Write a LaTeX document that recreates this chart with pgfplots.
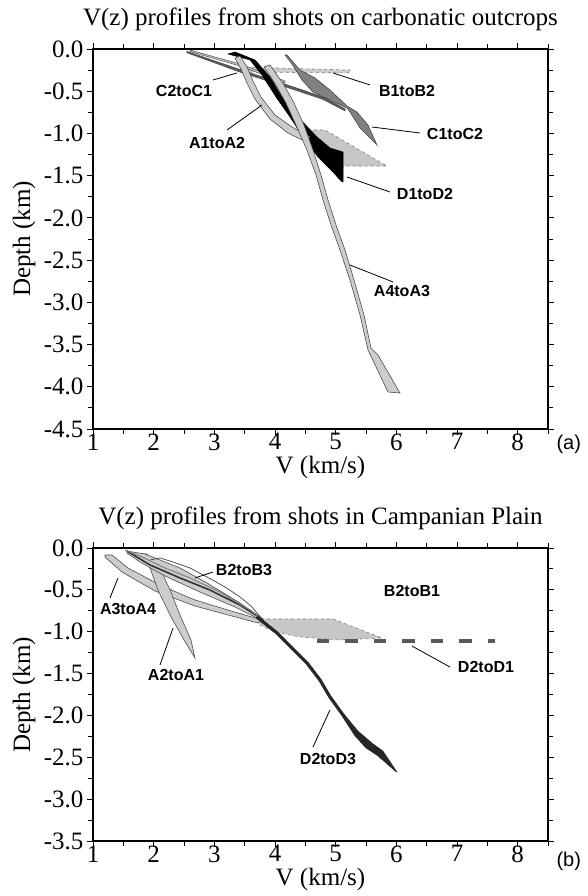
\documentclass[border=0pt]{standalone}
\usepackage{fontspec}
\setmainfont{Liberation Serif}
\newfontfamily\labfont{Liberation Sans}
\usepackage{pgfplots}
\pgfplotsset{compat=1.18}

\definecolor{edge}{gray}{0.30}
\definecolor{lightband}{gray}{0.80}
\definecolor{midband}{gray}{0.50}
\definecolor{darkband}{gray}{0.35}
\definecolor{areafill}{gray}{0.78}

\newcommand{\curvelabel}{\labfont\bfseries\fontsize{16}{16}\selectfont}
\newcommand{\bigtext}{\fontsize{25}{25}\selectfont}

\pgfplotsset{
  vzpanel/.style={
    scale only axis, width=455pt,
    xmin=1, xmax=8.5,
    xtick={1,2,3,4,5,6,7,8},
    xticklabels={1,2,3,4,5,6,7,8},
    minor xtick={1.5,2.5,3.5,4.5,5.5,6.5,7.5,8.5},
    tick align=outside,
    xtick pos=both, ytick pos=both,
    major tick length=6pt, minor tick length=5pt,
    every tick/.style={black, line width=0.9pt},
    axis line style={line width=1.4pt},
    ticklabel style={font=\bigtext},
    xticklabel style={yshift=5pt},
    title style={font=\bigtext, at={(axis description cs:0.5,1)}, anchor=base, yshift=17pt},
    xlabel={V (km/s)},
    x label style={font=\bigtext, at={(axis description cs:0.5,0)}, anchor=base, yshift=-45pt},
    every axis plot/.append style={mark=none},
  },
  band/.style={fill=lightband, draw=edge, line width=0.6pt},
  leader/.style={black, line width=0.8pt},
}

\begin{document}
\begin{tikzpicture}
\path[use as bounding box] (0pt,0pt) rectangle (587pt,896pt);

% ---------------- (a) carbonatic outcrops ----------------
\begin{axis}[vzpanel, at={(93pt,467pt)}, anchor=south west, height=380pt,
  ymin=-4.5, ymax=0,
  ytick={-4.5,-4.0,-3.5,-3.0,-2.5,-2.0,-1.5,-1.0,-0.5,0.0},
  yticklabels={-4.5,-4.0,-3.5,-3.0,-2.5,-2.0,-1.5,-1.0,-0.5,0.0},
  minor ytick={-4.25,-3.75,-3.25,-2.75,-2.25,-1.75,-1.25,-0.75,-0.25},
  title={V(z) profiles from shots on carbonatic outcrops}]

% B1toB2
\addplot[fill=lightband, draw=gray, dashed, line width=0.6pt] coordinates {
 (3.423,-0.213) (5.236,-0.249) (5.236,-0.284) (3.423,-0.272)} -- cycle;
% grey area under D1toD2
\addplot[fill=areafill, draw=gray, dashed, line width=0.6pt] coordinates {
 (4.247,-0.959) (4.824,-0.959) (5.846,-1.386) (5.121,-1.386) (4.494,-1.078)} -- cycle;
% secondary thin band near C2toC1
\addplot[fill=lightband, draw=edge, line width=0.5pt] coordinates {
 (2.599,-0.012) (3.423,-0.178) (4.165,-0.379) (4.165,-0.403) (3.423,-0.201) (2.599,-0.030)} -- cycle;
% C2toC1
\addplot[fill=darkband, draw=edge, line width=0.5pt] coordinates {
 (2.549,-0.028) (3.390,-0.235) (4.247,-0.436) (4.791,-0.567) (5.154,-0.709)
 (5.154,-0.734) (4.791,-0.597) (4.247,-0.466) (3.390,-0.265) (2.549,-0.045)} -- cycle;
% C1toC2
\addplot[fill=midband, draw=black!70, line width=0.6pt] coordinates {
 (4.198,-0.071) (4.412,-0.249) (4.659,-0.343) (4.906,-0.486) (5.187,-0.675)
 (5.351,-0.746) (5.533,-0.900) (5.681,-1.137)
 (5.599,-1.078) (5.401,-0.936) (5.236,-0.746) (5.187,-0.699) (4.906,-0.604)
 (4.626,-0.509) (4.445,-0.367) (4.280,-0.178) (4.165,-0.071)} -- cycle;
% D1toD2
\addplot[fill=black, draw=black, line width=0.5pt] coordinates {
 (3.225,-0.059) (3.588,-0.130) (3.786,-0.308) (4.016,-0.568) (4.247,-0.805)
 (4.461,-1.042) (4.709,-1.279) (4.956,-1.457) (5.104,-1.575)
 (5.121,-1.575) (5.121,-1.220) (4.906,-1.172) (4.692,-1.042) (4.379,-0.805)
 (4.115,-0.568) (3.917,-0.332) (3.670,-0.130) (3.341,-0.036)} -- cycle;
% A1toA2
\addplot[band] coordinates {
 (3.423,-0.083) (3.538,-0.213) (3.637,-0.379) (3.769,-0.568) (4.000,-0.782)
 (4.280,-0.924) (4.577,-1.042)
 (4.511,-1.101) (4.214,-0.995) (3.917,-0.829) (3.670,-0.592) (3.538,-0.403)
 (3.439,-0.237) (3.341,-0.107)} -- cycle;
% A4toA3
\addplot[band] coordinates {
 (3.917,-0.189) (4.148,-0.426) (4.313,-0.640) (4.478,-0.900) (4.626,-1.196)
 (4.758,-1.492) (4.874,-1.788) (5.005,-2.084) (5.154,-2.380) (5.302,-2.736)
 (5.467,-3.150) (5.582,-3.541) (5.698,-3.624) (6.060,-4.074) (5.862,-4.062)
 (5.549,-3.588) (5.533,-3.565) (5.401,-3.150) (5.236,-2.736) (5.071,-2.380)
 (4.923,-2.084) (4.791,-1.788) (4.676,-1.492) (4.527,-1.196) (4.346,-0.900)
 (4.181,-0.640) (4.016,-0.426) (3.819,-0.213)} -- cycle;

% leader lines
\addplot[leader] coordinates {(2.978,-0.367) (3.374,-0.284)};
\addplot[leader] coordinates {(5.566,-0.426) (4.956,-0.284)};
\addplot[leader] coordinates {(3.209,-0.959) (3.786,-0.663)};
\addplot[leader] coordinates {(6.390,-0.995) (5.599,-0.924)};
\addplot[leader] coordinates {(5.895,-1.694) (5.187,-1.516)};
\addplot[leader] coordinates {(5.945,-2.759) (5.236,-2.558)};

\node[font=\curvelabel] at (axis cs:2.50,-0.497) {C2toC1};
\node[font=\curvelabel] at (axis cs:6.176,-0.497) {B1toB2};
\node[font=\curvelabel] at (axis cs:3.044,-1.113) {A1toA2};
\node[font=\curvelabel] at (axis cs:6.967,-1.007) {C1toC2};
\node[font=\curvelabel] at (axis cs:6.472,-1.717) {D1toD2};
\node[font=\curvelabel] at (axis cs:6.093,-2.866) {A4toA3};
\end{axis}

% ---------------- (b) Campanian Plain ----------------
\begin{axis}[vzpanel, at={(93pt,55pt)}, anchor=south west, height=293pt,
  ymin=-3.5, ymax=0,
  ytick={-3.5,-3.0,-2.5,-2.0,-1.5,-1.0,-0.5,0.0},
  yticklabels={-3.5,-3.0,-2.5,-2.0,-1.5,-1.0,-0.5,0.0},
  minor ytick={-3.25,-2.75,-2.25,-1.75,-1.25,-0.75,-0.25},
  title={V(z) profiles from shots in Campanian Plain}]

% shaded area between B2 and D2 profiles
\addplot[fill=areafill, draw=gray, dashed, line width=0.6pt] coordinates {
 (3.670,-0.848) (4.956,-0.848) (5.764,-1.075) (5.071,-1.099) (4.412,-1.063)
 (4.000,-1.004) (3.753,-0.920)} -- cycle;
% D2toD1
\addplot[draw=black!65, line width=3.5pt, dash pattern=on 12.5pt off 16pt] coordinates {
 (4.692,-1.111) (7.626,-1.111)};
% A3toA4
\addplot[band] coordinates {
 (1.198,-0.084) (1.313,-0.084) (1.577,-0.239) (2.137,-0.454) (2.681,-0.621)
 (3.225,-0.741) (3.786,-0.860)
 (3.720,-0.896) (3.225,-0.800) (2.681,-0.693) (2.022,-0.514) (1.478,-0.287)
 (1.198,-0.108)} -- cycle;
% A2toA1
\addplot[band] coordinates {
 (1.775,-0.072) (1.940,-0.239) (2.071,-0.502) (2.269,-0.800) (2.500,-1.099)
 (2.681,-1.314)
 (2.615,-1.099) (2.434,-0.800) (2.269,-0.502) (2.104,-0.239) (1.890,-0.072)} -- cycle;
% B2toB3
\addplot[band] coordinates {
 (1.560,-0.036) (1.857,-0.072) (2.104,-0.143) (2.434,-0.239) (2.879,-0.418)
 (3.423,-0.657) (3.802,-0.848)
 (3.802,-0.872) (3.341,-0.705) (2.764,-0.526) (2.187,-0.335) (1.775,-0.167)
 (1.560,-0.060)} -- cycle;
% B2toB1
\addplot[draw=black!75, line width=0.7pt] coordinates {
 (1.940,-0.143) (2.104,-0.119) (2.319,-0.167) (2.599,-0.239) (2.879,-0.346)
 (3.176,-0.466) (3.423,-0.585) (3.621,-0.705) (3.786,-0.848)};
\addplot[draw=black!80, line width=1.6pt] coordinates {
 (1.560,-0.036) (1.940,-0.203) (2.434,-0.358) (2.928,-0.502) (3.423,-0.681)
 (3.786,-0.848)};
\addplot[draw=gray, line width=1.0pt] coordinates {
 (1.527,-0.024) (1.775,-0.096) (2.187,-0.239) (2.599,-0.358) (3.093,-0.526)
 (3.588,-0.741) (3.786,-0.848)};
% D2toD3
\addplot[fill=black!85, draw=black!85, line width=0.3pt] coordinates {
 (3.720,-0.812) (4.049,-1.004) (4.297,-1.183) (4.544,-1.362) (4.758,-1.565)
 (4.923,-1.768) (5.137,-1.983) (5.368,-2.186) (5.599,-2.330) (5.780,-2.425)
 (6.011,-2.676)
 (5.978,-2.664) (5.698,-2.485) (5.500,-2.390) (5.318,-2.246) (5.104,-2.007)
 (4.890,-1.792) (4.725,-1.589) (4.511,-1.386) (4.264,-1.207) (4.016,-1.027)
 (3.687,-0.836)} -- cycle;

% leader lines
\addplot[leader] coordinates {(2.978,-0.287) (2.681,-0.358)};
\addplot[leader] coordinates {(1.280,-0.597) (1.412,-0.358)};
\addplot[leader] coordinates {(2.104,-1.398) (2.319,-0.956)};
\addplot[leader] coordinates {(6.884,-1.422) (6.258,-1.171)};
\addplot[leader] coordinates {(4.626,-2.378) (4.906,-1.935)};

\node[font=\curvelabel] at (axis cs:3.489,-0.263) {B2toB3};
\node[font=\curvelabel] at (axis cs:6.258,-0.514) {B2toB1};
\node[font=\curvelabel] at (axis cs:1.577,-0.729) {A3toA4};
\node[font=\curvelabel] at (axis cs:2.368,-1.517) {A2toA1};
\node[font=\curvelabel] at (axis cs:7.478,-1.422) {D2toD1};
\node[font=\curvelabel] at (axis cs:4.873,-2.521) {D2toD3};
\end{axis}

% depth axis titles
\node[rotate=90, font=\bigtext] at (24pt,657pt) {Depth (km)};
\node[rotate=90, font=\bigtext] at (24pt,201pt) {Depth (km)};

\node[anchor=west, font=\labfont\fontsize{20}{20}\selectfont] at (553pt,452pt) {(a)};
\node[anchor=west, font=\labfont\fontsize{20}{20}\selectfont] at (553pt,35pt) {(b)};
\end{tikzpicture}
\end{document}
